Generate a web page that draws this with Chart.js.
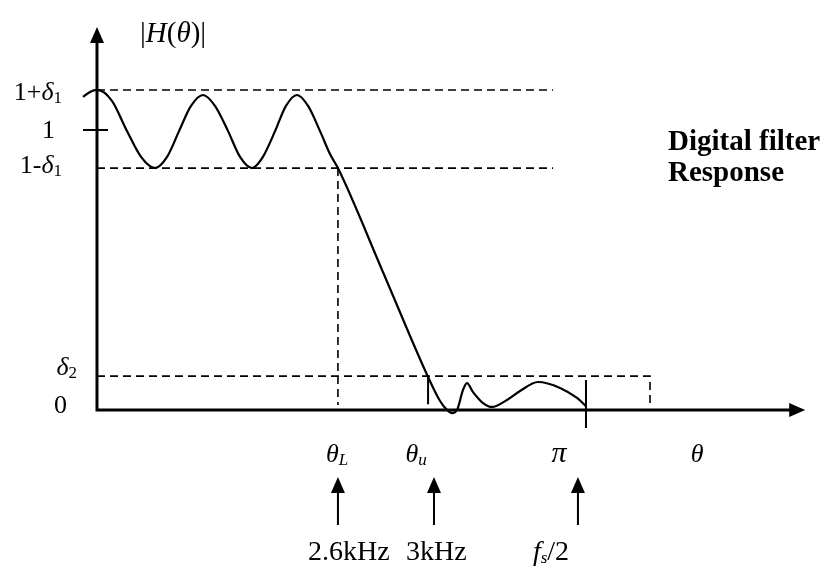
<!DOCTYPE html>
<html>
<head>
<meta charset="utf-8">
<script src="https://cdn.jsdelivr.net/npm/chart.js@4"></script>
<style>
  html, body { margin: 0; padding: 0; background: #fff; }
  #wrap { width: 824px; height: 566px; position: relative; }
</style>
</head>
<body>
<div id="wrap"><canvas id="filter"></canvas></div>
<script>
// frequency response (theta in rad, magnitude)
const thetaPts = [-0.090, -0.045, 0, 0.096, 0.186, 0.283, 0.373, 0.450, 0.527, 0.604, 0.681,
    0.758, 0.842, 0.919, 0.996, 1.066, 1.144, 1.214, 1.285, 1.356, 1.433, 1.497, 1.548,
    1.837, 2.127, 2.204, 2.249, 2.281, 2.313, 2.351, 2.377, 2.416, 2.480, 2.538,
    2.634, 2.718, 2.833, 2.975, 3.084, 3.1416];
const magPts = [1.118, 1.136, 1.143, 1.104, 1.004, 0.904, 0.864, 0.904, 0.996, 1.086, 1.125,
    1.086, 0.996, 0.904, 0.864, 0.904, 0.996, 1.086, 1.125, 1.086, 0.996, 0.914, 0.864,
    0.493, 0.118, 0.032, 0.0, -0.011, 0.0, 0.071, 0.096, 0.064, 0.025, 0.011,
    0.036, 0.068, 0.100, 0.079, 0.043, 0.014];

// tolerance levels and edges
const delta1Upper = 1.143;
const delta1Lower = 0.864;
const delta2 = 0.121;
const thetaL = 1.548;
const thetaU = 2.127;
const thetaPi = 3.1416;
const passDashEnd = 2.93;
const stopDashEnd = 3.553;

// axis extent
const xAxisEnd = 4.55;
const yAxisTop = 1.368;

// tick labels (rich text: n = normal, i = italic, s = subscript, is = italic subscript)
const yTickValues = [delta1Upper, 1, delta1Lower, delta2, 0];
const yTickLabels = [
    [['1+', 'n'], ['δ', 'i'], ['1', 's']],
    [['1', 'n']],
    [['1-', 'n'], ['δ', 'i'], ['1', 's']],
    [['δ', 'i'], ['2', 's']],
    [['0', 'n']],
];
const xTickValues = [1.542, 2.05, 2.968, 3.855];
const xTickLabels = [
    [['θ', 'i'], ['L', 'is']],
    [['θ', 'i'], ['u', 'is']],
    [['π', 'pi']],
    [['θ', 'i']],
];
const freqValues = [1.548, 2.165, 3.09];
const freqLabelAt = [1.618, 2.180, 2.917];
const freqLabels = [
    [['2.6kHz', 'b']],
    [['3kHz', 'b']],
    [['f', 'bi'], ['s', 'is'], ['/2', 'b']],
];

const FAM = '"Liberation Serif", "Times New Roman", serif';
const fonts = {
    n: { f: '26px ' + FAM, dy: 0 },
    i: { f: 'italic 26px ' + FAM, dy: 0 },
    b: { f: '28px ' + FAM, dy: 0 },
    bi: { f: 'italic 28px ' + FAM, dy: 0 },
    pi: { f: 'italic 30px ' + FAM, dy: 0 },
    h: { f: '29px ' + FAM, dy: 0 },
    hi: { f: 'italic 29px ' + FAM, dy: 0 },
    s: { f: '17px ' + FAM, dy: 3 },
    is: { f: 'italic 17px ' + FAM, dy: 3 },
};

function drawRich(ctx, parts, x, y, align) {
    let w = 0;
    parts.forEach(([t, st]) => { ctx.font = fonts[st].f; w += ctx.measureText(t).width; });
    let cx = align === 'right' ? x - w : align === 'center' ? x - w / 2 : x;
    ctx.textBaseline = 'alphabetic';
    ctx.textAlign = 'left';
    parts.forEach(([t, st]) => {
        ctx.font = fonts[st].f;
        ctx.fillText(t, cx, y + fonts[st].dy);
        cx += ctx.measureText(t).width;
    });
}

function arrowHead(ctx, x, y, dir, len, half) {
    ctx.beginPath();
    if (dir === 'up') {
        ctx.moveTo(x, y); ctx.lineTo(x - half, y + len); ctx.lineTo(x + half, y + len);
    } else {
        ctx.moveTo(x, y); ctx.lineTo(x - len, y - half); ctx.lineTo(x - len, y + half);
    }
    ctx.closePath();
    ctx.fill();
}

const sketchPlugin = {
    id: 'sketch',
    afterDatasetsDraw(chart) {
        const ctx = chart.ctx;
        const xs = chart.scales.x, ys = chart.scales.y;
        const ox = xs.getPixelForValue(0), oy = ys.getPixelForValue(0);
        ctx.save();
        ctx.fillStyle = '#000';
        ctx.strokeStyle = '#000';

        // axes
        ctx.lineWidth = 3;
        const yTop = ys.getPixelForValue(yAxisTop);
        const xEnd = xs.getPixelForValue(xAxisEnd);
        ctx.beginPath();
        ctx.moveTo(ox, oy + 1.5); ctx.lineTo(ox, yTop + 10);
        ctx.moveTo(ox - 1.5, oy); ctx.lineTo(xEnd - 10, oy);
        ctx.stroke();
        arrowHead(ctx, ox, yTop, 'up', 16, 7);
        arrowHead(ctx, xEnd, oy, 'right', 16, 7);

        // y labels
        const yLabelX = [62, 55, 62, 77, 67];
        const yLabelDy = [10, 8, 5, -1, 3];
        yTickValues.forEach((v, i) => {
            drawRich(ctx, yTickLabels[i], yLabelX[i], ys.getPixelForValue(v) + yLabelDy[i], 'right');
        });

        // theta labels under the axis
        xTickValues.forEach((v, i) => {
            drawRich(ctx, xTickLabels[i], xs.getPixelForValue(v), oy + 52, 'center');
        });

        // frequency arrows and labels
        ctx.lineWidth = 2;
        freqValues.forEach((v, i) => {
            const px = xs.getPixelForValue(v);
            ctx.beginPath();
            ctx.moveTo(px, oy + 115); ctx.lineTo(px, oy + 80);
            ctx.stroke();
            arrowHead(ctx, px, oy + 67, 'up', 16, 7);
            drawRich(ctx, freqLabels[i], xs.getPixelForValue(freqLabelAt[i]), oy + 150, 'center');
        });

        // |H(theta)| axis title
        drawRich(ctx, [['|', 'h'], ['H', 'hi'], ['(', 'h'], ['θ', 'hi'], [')|', 'h']], ox + 43, 42, 'left');

        // title
        ctx.font = 'bold 29px ' + FAM;
        ctx.textAlign = 'left';
        ctx.textBaseline = 'alphabetic';
        ctx.fillText('Digital filter', 668, 150);
        ctx.fillText('Response', 668, 181);
        ctx.restore();
    }
};

const seg = (x0, y0, x1, y1) => [{ x: x0, y: y0 }, { x: x1, y: y1 }];
const dashed = (data) => ({
    data, borderColor: '#000', borderWidth: 1.6, borderDash: [8, 5], pointRadius: 0, showLine: true, tension: 0,
});
const solid = (data, w) => ({
    data, borderColor: '#000', borderWidth: w, pointRadius: 0, showLine: true, tension: 0,
});

const Filter = document.getElementById('filter').getContext('2d');
const myFilterChart = new Chart(Filter, {
    type: 'scatter',
    data: {
        datasets: [
            {
                label: '|H(θ)|',
                data: thetaPts.map((t, i) => ({ x: t, y: magPts[i] })),
                borderColor: '#000',
                borderWidth: 2.2,
                pointRadius: 0,
                showLine: true,
                cubicInterpolationMode: 'monotone',
            },
            dashed(seg(0, delta1Upper, passDashEnd, delta1Upper)),
            dashed(seg(0, delta1Lower, passDashEnd, delta1Lower)),
            dashed([{ x: 0, y: delta2 }, { x: stopDashEnd, y: delta2 }, { x: stopDashEnd, y: 0.018 }]),
            dashed(seg(thetaL, delta1Lower, thetaL, 0.018)),
            solid(seg(thetaU, 0.118, thetaU, 0.021), 2),
            solid(seg(thetaPi, 0.107, thetaPi, -0.064), 2),
            solid(seg(-0.09, 1, 0.071, 1), 2),
        ],
    },
    options: {
        responsive: true,
        maintainAspectRatio: false,
        animation: false,
        layout: { padding: 0 },
        plugins: {
            legend: { display: false },
            tooltip: { enabled: false },
        },
        scales: {
            x: { type: 'linear', display: false, min: -0.6232, max: 4.6708 },
            y: { type: 'linear', display: false, min: -0.5571, max: 1.4643 },
        },
    },
    plugins: [sketchPlugin],
});
</script>
</body>
</html>
